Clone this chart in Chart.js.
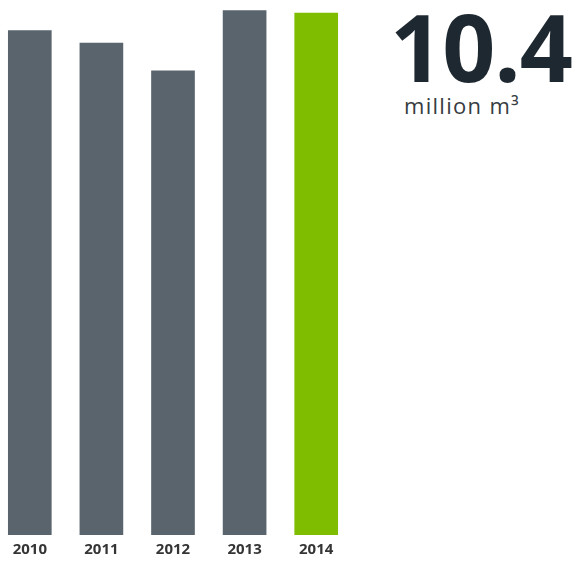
<!DOCTYPE html>
<html>
<head>
<meta charset="utf-8">
<script src="https://cdn.jsdelivr.net/npm/chart.js@4/dist/chart.umd.min.js"></script>
<style>
  html, body { margin: 0; padding: 0; background: #fff; }
  body { width: 575px; height: 561px; position: relative; overflow: hidden; }
  #wrap { position: absolute; left: -6px; top: 0; width: 358px; height: 565px; }
  #bigValue {
    position: absolute; left: 390px; top: -17px;
    font-family: "Open Sans", sans-serif; font-weight: 700;
    font-size: 93px; color: #1e2830; letter-spacing: -1px; white-space: nowrap;
  }
  #unit {
    position: absolute; left: 404px; top: 90px;
    font-family: "Open Sans", sans-serif; font-weight: 500; font-size: 22px;
    letter-spacing: 1.3px; color: #363c41; white-space: nowrap;
  }
</style>
</head>
<body>
<div id="wrap"><canvas id="chart"></canvas></div>
<div id="bigValue">10.4</div>
<div id="unit">million m³</div>
<script>
// values (million m³)
const years = ['2010', '2011', '2012', '2013', '2014'];
const volumes = [10.05, 9.8, 9.25, 10.45, 10.4];
const barColors = ['#59646d', '#59646d', '#59646d', '#59646d', '#7fbd00'];

const ctx = document.getElementById('chart').getContext('2d');
const chart = new Chart(ctx, {
    type: 'bar',
    data: {
        labels: years,
        datasets: [{
            data: volumes,
            backgroundColor: barColors,
            barThickness: 43
        }]
    },
    options: {
        responsive: true,
        maintainAspectRatio: false,
        animation: false,
        layout: { padding: 0 },
        scales: {
            x: {
                grid: { display: false, drawTicks: false },
                border: { display: false },
                ticks: {
                    color: '#353535',
                    padding: 6,
                    font: { family: 'Open Sans', weight: 'bold', size: 15 }
                }
            },
            y: {
                display: false,
                min: 0,
                max: 10.66
            }
        },
        plugins: {
            legend: { display: false },
            tooltip: { enabled: false }
        }
    }
});
</script>
</body>
</html>
